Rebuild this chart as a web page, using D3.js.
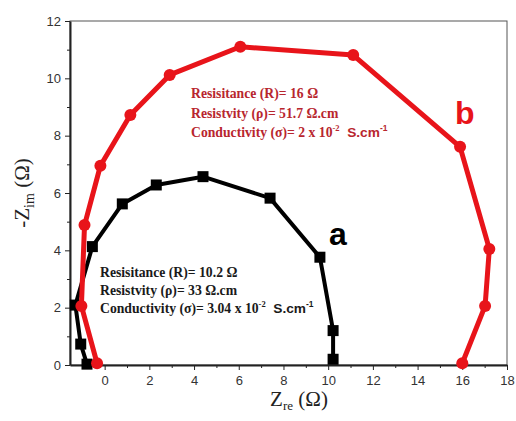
<!DOCTYPE html>
<meta charset="utf-8">
<style>
body { margin: 0; background: #fff; }
.axis text { font: 13px Arial, "Liberation Sans", sans-serif; fill: #333; }
.axis path, .axis line { stroke: #222; }
.note { font-family: "Liberation Serif", "Times New Roman", serif; font-weight: bold; font-size: 13.7px; }
</style>
<svg width="516" height="421"></svg>
<script src="https://cdnjs.cloudflare.com/ajax/libs/d3/7.8.5/d3.min.js"></script>
<script>

// sample a (black squares)
var aRe = [-0.79, -1.07, -1.31, -0.55, 0.79, 2.31, 4.4, 7.4, 9.63, 10.22, 10.22];
var aIm = [0.03, 0.73, 2.09, 4.13, 5.62, 6.28, 6.57, 5.82, 3.76, 1.2, 0.2];

// sample b (red circles)
var bRe = [-0.34, -1.04, -0.9, -0.19, 1.15, 2.91, 6.07, 11.12, 15.9, 17.21, 17.02, 16.0];
var bIm = [0.06, 2.06, 4.88, 6.95, 8.72, 10.12, 11.1, 10.81, 7.61, 4.05, 2.06, 0.06];

var xTicks = [0, 2, 4, 6, 8, 10, 12, 14, 16, 18];
var yTicks = [0, 2, 4, 6, 8, 10, 12];

var notesB = ["Resisitance (R)= 16 Ω", "Resistvity (ρ)= 51.7 Ω.cm", ["Conductivity (σ)= 2 x 10", "-2", "  S.cm", "-1"]];
var notesA = ["Resisitance (R)= 10.2 Ω", "Resistvity (ρ)= 33 Ω.cm", ["Conductivity (σ)= 3.04 x 10", "-2", "  S.cm", "-1"]];

var svg = d3.select("svg"),
    margin = {top: 21, right: 9, bottom: 56, left: 70},
    width = svg.attr("width") - margin.left - margin.right,
    height = svg.attr("height") - margin.top - margin.bottom,
    g = svg.append("g").attr("transform", "translate(" + margin.left + "," + margin.top + ")");

var x = d3.scaleLinear().domain([-1.55, 18]).range([0, width]),
    y = d3.scaleLinear().domain([0, 12]).range([height, 0]);

// frame
g.append("rect")
    .attr("width", width).attr("height", height)
    .attr("fill", "none").attr("stroke", "#555").attr("stroke-width", 1);

// minor ticks
g.append("g")
    .attr("class", "axis")
    .attr("transform", "translate(0," + height + ")")
    .call(d3.axisBottom(x).tickValues(d3.range(-1, 18, 2)).tickSize(3).tickFormat(""))
    .select(".domain").remove();
g.append("g")
    .attr("class", "axis")
    .call(d3.axisLeft(y).tickValues(d3.range(1, 12, 2)).tickSize(3).tickFormat(""))
    .select(".domain").remove();

var xAxis = g.append("g")
    .attr("class", "axis")
    .attr("transform", "translate(0," + height + ")")
    .call(d3.axisBottom(x).tickValues(xTicks).tickSize(5).tickPadding(6).tickSizeOuter(0));
xAxis.select(".domain").attr("stroke-width", 2);

var yAxis = g.append("g")
    .attr("class", "axis")
    .call(d3.axisLeft(y).tickValues(yTicks).tickSize(5).tickPadding(4).tickSizeOuter(0));
yAxis.select(".domain").attr("stroke-width", 2);

var line = d3.line()
    .x(function(d) { return x(d[0]); })
    .y(function(d) { return y(d[1]); });

var aPts = aRe.map(function(v, i) { return [v, aIm[i]]; });
var bPts = bRe.map(function(v, i) { return [v, bIm[i]]; });

g.append("path")
    .attr("d", line(aPts))
    .attr("fill", "none").attr("stroke", "#000").attr("stroke-width", 4)
    .attr("stroke-linejoin", "round");
g.selectAll(".sq").data(aPts).enter().append("rect")
    .attr("x", function(d) { return x(d[0]) - 5.5; })
    .attr("y", function(d) { return y(d[1]) - 5.5; })
    .attr("width", 11).attr("height", 11)
    .attr("fill", "#000");

g.append("path")
    .attr("d", line(bPts))
    .attr("fill", "none").attr("stroke", "#e8141a").attr("stroke-width", 5)
    .attr("stroke-linejoin", "round");
g.selectAll(".ci").data(bPts).enter().append("circle")
    .attr("cx", function(d) { return x(d[0]); })
    .attr("cy", function(d) { return y(d[1]); })
    .attr("r", 6)
    .attr("fill", "#e8141a");

// notes
function drawNotes(lines, x0, y0, step, color) {
  lines.forEach(function(l, i) {
    var t = g.append("text").attr("class", "note").attr("fill", color)
        .attr("x", x0).attr("y", y0 + i * step).attr("xml:space", "preserve");
    if (typeof l === "string") { t.text(l); return; }
    t.append("tspan").text(l[0]);
    t.append("tspan").attr("font-size", "8.5px").attr("dy", -6).text(l[1]);
    t.append("tspan").attr("dy", 6).style("font-family", "Arial, 'Liberation Sans', sans-serif").text(l[2]);
    t.append("tspan").attr("font-size", "8.5px").attr("dy", -6).style("font-family", "Arial, 'Liberation Sans', sans-serif").text(l[3]);
  });
}
drawNotes(notesB, 191 - margin.left, 98 - margin.top, 19.5, "#b8262e");
drawNotes(notesA, 100 - margin.left, 277 - margin.top, 18, "#1a1a1a");

g.append("text").attr("x", 329 - margin.left).attr("y", 245 - margin.top)
    .style("font", "bold 32px Arial, 'Liberation Sans', sans-serif").attr("fill", "#000").text("a");
g.append("text").attr("x", 455 - margin.left).attr("y", 124 - margin.top)
    .style("font", "bold 32px Arial, 'Liberation Sans', sans-serif").attr("fill", "#e8141a").text("b");

// axis titles
var yl = svg.append("text")
    .attr("transform", "translate(29," + (margin.top + height / 2) + ") rotate(-90)")
    .attr("text-anchor", "middle")
    .style("font", "21px 'Liberation Serif', 'Times New Roman', serif").attr("fill", "#222");
yl.append("tspan").text("-Z");
yl.append("tspan").attr("font-size", "14px").attr("dy", 5).text("im");
yl.append("tspan").attr("dy", -5).text(" (Ω)");

var xl = svg.append("text")
    .attr("x", 299).attr("y", 406)
    .attr("text-anchor", "middle")
    .style("font", "21px 'Liberation Serif', 'Times New Roman', serif").attr("fill", "#222");
xl.append("tspan").text("Z");
xl.append("tspan").attr("font-size", "13px").attr("dy", 4).text("re");
xl.append("tspan").attr("dy", -4).text(" (Ω)");

</script>
